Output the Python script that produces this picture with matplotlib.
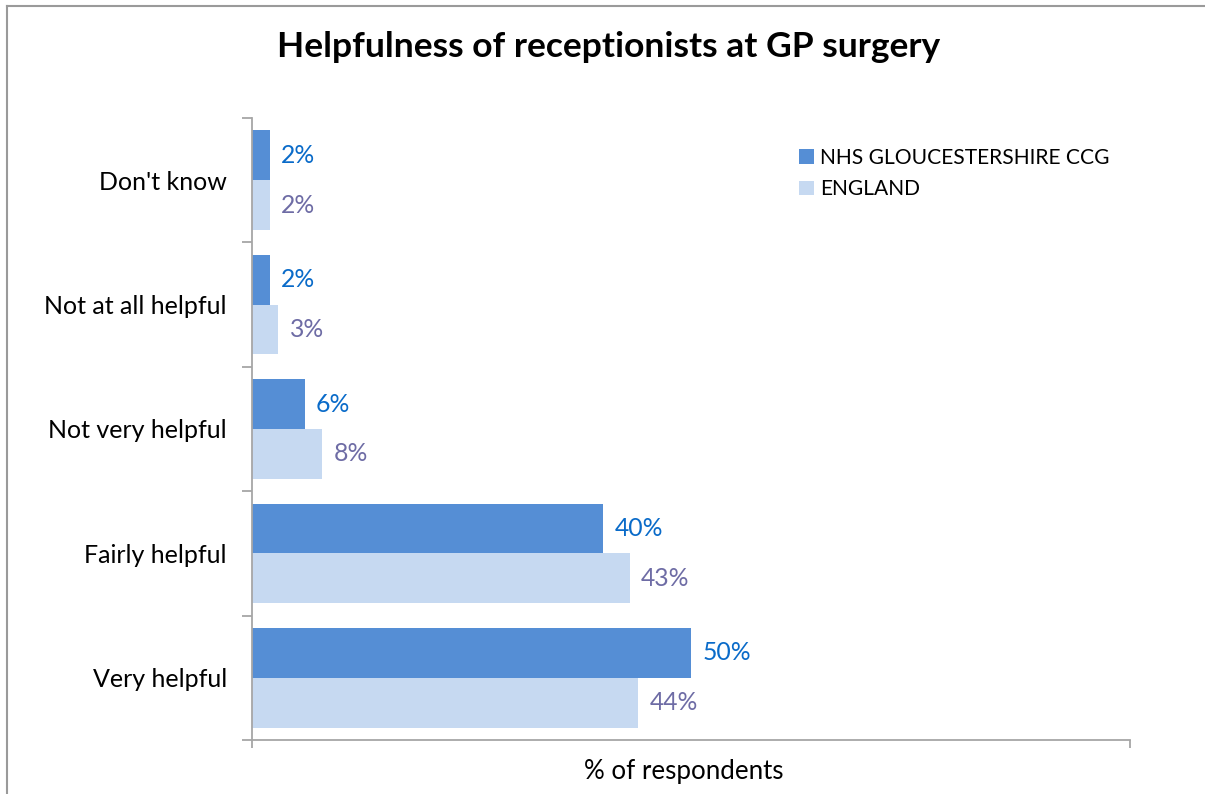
import matplotlib.pyplot as plt
from matplotlib.lines import Line2D

plt.rcParams['font.family'] = ['Lato', 'DejaVu Sans']

categories = ["Very helpful", "Fairly helpful", "Not very helpful",
              "Not at all helpful", "Don't know"]
ccg_values = [50, 40, 6, 2, 2]
england_values = [44, 43, 8, 3, 2]
series_names = ["NHS GLOUCESTERSHIRE CCG", "ENGLAND"]

dark_blue = "#558ED5"
light_blue = "#C6D9F1"
axis_grey = "#A6A6A6"

fig = plt.figure(figsize=(12.05, 7.94), dpi=100)
W, H = 1205, 794
ax = fig.add_axes([252 / W, 1 - 740 / H, (1130 - 252) / W, (740 - 118) / H])

pos = list(range(len(categories)))
h = 0.4
ax.barh([p + h / 2 for p in pos], ccg_values, height=h, color=dark_blue,
        label=series_names[0])
ax.barh([p - h / 2 for p in pos], england_values, height=h, color=light_blue,
        label=series_names[1])

for p, v in zip(pos, ccg_values):
    ax.text(v + 1.3, p + h / 2, f"{v}%", va='center', ha='left',
            fontsize=17.8, color="#0A6BC9")
for p, v in zip(pos, england_values):
    ax.text(v + 1.3, p - h / 2, f"{v}%", va='center', ha='left',
            fontsize=17.8, color="#6E6CA5")

ax.set_xlim(0, 100)
ax.set_ylim(-0.5, len(categories) - 0.5)

# category labels sit between the boundary ticks
ax.set_yticks(pos)
ax.set_yticklabels(categories, fontsize=18)
ax.set_yticks([p - 0.5 for p in pos] + [len(categories) - 0.5], minor=True)
ax.tick_params(axis='y', which='major', length=0, pad=18)
ax.tick_params(axis='y', which='minor', length=7, width=1.3, color=axis_grey,
               direction='out')
ax.set_xticks([0, 100])
ax.set_xticklabels([])
ax.tick_params(axis='x', length=6, width=1.3, color=axis_grey, direction='out')

for side in ['top', 'right']:
    ax.spines[side].set_visible(False)
for side in ['left', 'bottom']:
    ax.spines[side].set_color(axis_grey)
    ax.spines[side].set_linewidth(1.3)

fig.text(684 / W, 1 - 772 / H, "% of respondents", ha='center', va='center',
         fontsize=18.6)
fig.text(609 / W, 1 - 47 / H, "Helpfulness of receptionists at GP surgery",
         ha='center', va='center', fontsize=25.5, fontweight='bold')

handles, labels = ax.get_legend_handles_labels()
fig.legend(handles, labels, loc='upper left',
           bbox_to_anchor=(780 / W, 1 - 129 / H), frameon=False,
           fontsize=15.1, handlelength=0.7, handleheight=0.7,
           handletextpad=0.3, labelspacing=0.55)

# outer chart frame (top and left edges)
fig.add_artist(Line2D([7 / W, 1], [1 - 6 / H, 1 - 6 / H], color="#9A9A9A",
                      lw=1.5, transform=fig.transFigure))
fig.add_artist(Line2D([7 / W, 7 / W], [0, 1 - 6 / H], color="#9A9A9A",
                      lw=1.5, transform=fig.transFigure))

fig.savefig("out.png", dpi=100)
